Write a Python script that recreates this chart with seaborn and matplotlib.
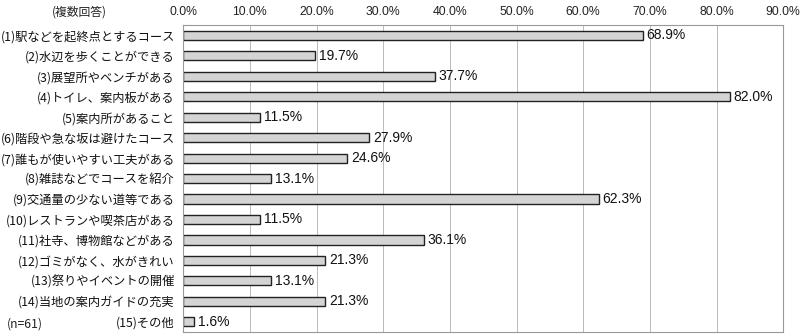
import matplotlib
matplotlib.use("Agg")
import matplotlib.pyplot as plt
import seaborn as sns
import pandas as pd

categories = [
    "(1)駅などを起終点とするコース",
    "(2)水辺を歩くことができる",
    "(3)展望所やベンチがある",
    "(4)トイレ、案内板がある",
    "(5)案内所があること",
    "(6)階段や急な坂は避けたコース",
    "(7)誰もが使いやすい工夫がある",
    "(8)雑誌などでコースを紹介",
    "(9)交通量の少ない道等である",
    "(10)レストランや喫茶店がある",
    "(11)社寺、博物館などがある",
    "(12)ゴミがなく、水がきれい",
    "(13)祭りやイベントの開催",
    "(14)当地の案内ガイドの充実",
    "(15)その他",
]
values = [68.9, 19.7, 37.7, 82.0, 11.5, 27.9, 24.6, 13.1, 62.3, 11.5, 36.1, 21.3, 13.1, 21.3, 1.6]
xticks = [0, 10, 20, 30, 40, 50, 60, 70, 80, 90]

sns.set_theme(style="white")
plt.rcParams['font.family'] = ['Noto Sans CJK JP', 'DejaVu Sans']

df = pd.DataFrame({"cat": categories, "val": values})

fig = plt.figure(figsize=(8, 3.36), dpi=100)
ax = fig.add_axes([0.229, 0.012, 0.75, 0.913])
sns.barplot(data=df, x="val", y="cat", orient="h", ax=ax, color="#d4d4d4",
            edgecolor="#222222", linewidth=1.0, width=0.45, saturation=1)

ax.set_xlim(0, 90)
ax.set_xticks(xticks)
ax.set_xticklabels([f"{t:.1f}%" for t in xticks], fontsize=8.8, color="#222222",
                   family="Liberation Sans")
ax.xaxis.tick_top()
ax.tick_params(axis="x", length=0, pad=5)
ax.tick_params(axis="y", length=0, pad=6, labelsize=8.8, labelcolor="#111111")
ax.set_xlabel("")
ax.set_ylabel("")
ax.grid(axis="x", color="#b0b0b0", linewidth=0.6)
ax.set_axisbelow(True)
for s in ax.spines.values():
    s.set_color("#999999")
    s.set_linewidth(0.8)

for i, v in enumerate(values):
    ax.text(v + 0.6, i, f"{v:.1f}%", va="center", ha="left", fontsize=10,
            color="#111111", family="Liberation Sans")

fig.text(0.065, 0.965, "(複数回答)", fontsize=8.5, color="#222222", va="center")
fig.text(0.008, 0.035, "(n=61)", fontsize=8.8, color="#222222", va="center")

fig.savefig("out.png", dpi=100, facecolor="white")
